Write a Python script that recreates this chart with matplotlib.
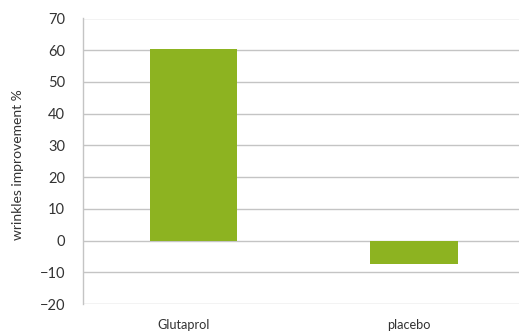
import matplotlib
matplotlib.use("Agg")
import matplotlib.pyplot as plt
from matplotlib.transforms import ScaledTranslation

categories = ["Glutaprol", "placebo"]
values = [60.3, -7.3]
yticks = [-20, -10, 0, 10, 20, 30, 40, 50, 60, 70]

plt.rcParams['font.family'] = ['Lato', 'DejaVu Sans']

fig = plt.figure(figsize=(5.2, 3.32), dpi=100)
W, H = 520, 332
ax = fig.add_axes([83 / W, (H - 304) / H, (519 - 83) / W, (304 - 18.5) / H])

x = list(range(len(categories)))
ax.bar(x, values, width=0.395, color="#8db321", zorder=3)

ax.set_ylim(-20, 70)
ax.set_yticks(yticks)
ax.set_xlim(-0.5, 1.476)
ax.set_xticks(x)
ax.set_xticklabels(categories)

ax.yaxis.grid(True, color="#c4c4c4", linewidth=1.0, zorder=0)
ax.set_axisbelow(True)
for side in ["top", "right", "bottom"]:
    ax.spines[side].set_visible(False)
ax.spines["left"].set_color("#c4c4c4")
ax.spines["left"].set_linewidth(1.0)

ax.tick_params(axis="y", length=0, pad=13, labelsize=10.5, labelcolor="#333333")
ax.tick_params(axis="x", length=0, pad=10.5, labelsize=9.2, labelcolor="#333333")

fig.text(18 / W, (H - 165) / H, "wrinkles improvement %", rotation=90,
         ha="center", va="center", fontsize=10, color="#333333")

offsets = [-10, -5]
for lbl, dx in zip(ax.get_xticklabels(), offsets):
    lbl.set_transform(lbl.get_transform() + ScaledTranslation(dx / 100, 0, fig.dpi_scale_trans))

fig.savefig("out.png", dpi=100)
